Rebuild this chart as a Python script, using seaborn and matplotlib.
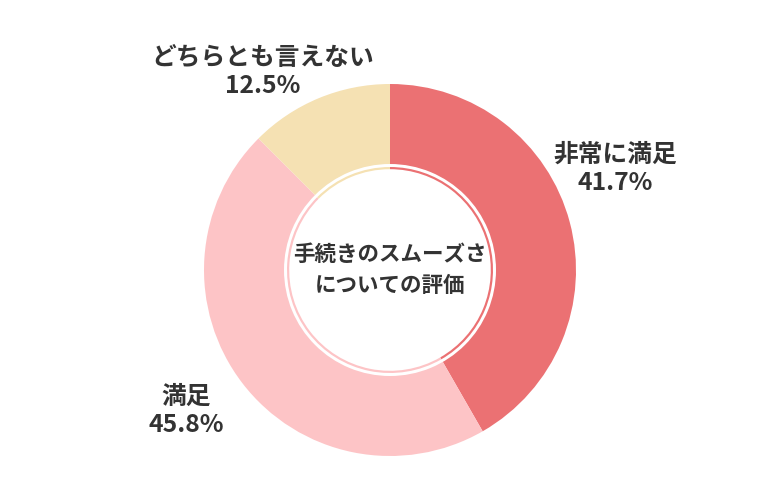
import matplotlib
matplotlib.use("Agg")
import matplotlib.pyplot as plt
import seaborn as sns

categories = ["非常に満足", "満足", "どちらとも言えない"]
values = [41.7, 45.8, 12.5]
colors = ["#EB7173", "#FDC4C6", "#F5E1B3"]
center_title = "手続きのスムーズさ\nについての評価"

sns.set_theme(style="white")
plt.rcParams['font.family'] = ['Noto Sans CJK JP', 'DejaVu Sans']

W, H = 780, 500
fig = plt.figure(figsize=(W / 100, H / 100), dpi=100)
ax = fig.add_axes([0, 0, 1, 1])
ax.set_xlim(0, W)
ax.set_ylim(0, H)
ax.set_aspect('equal')
ax.axis('off')

cx, cy = 390, H - 270
R = 186

# main wedges
ax.pie(values, colors=colors, startangle=90, counterclock=False,
       radius=R, center=(cx, cy), frame=True,
       wedgeprops=dict(linewidth=0))
# white gap ring
ax.pie([1], colors=["white"], radius=106, center=(cx, cy), frame=True,
       wedgeprops=dict(linewidth=0))
# thin coloured ring
ax.pie(values, colors=colors, startangle=90, counterclock=False,
       radius=103, center=(cx, cy), frame=True,
       wedgeprops=dict(linewidth=0, width=2.2))
ax.set_xlim(0, W)
ax.set_ylim(0, H)
ax.axis('off')

txt = dict(fontweight='bold', color='#333333', ha='center', va='center')
label_pos = [(615, 155), (186, 397), (263, 58)]
for (name, v, (x, y)) in zip(categories, values, label_pos):
    ax.text(x, H - y, name, fontsize=17.8, **txt)
    ax.text(x, H - y - 28, f"{v:.1f}%", fontsize=17.8, **txt)

ax.text(cx, H - 270, center_title, fontsize=15.5, linespacing=1.55, **txt)

fig.savefig("out.png", dpi=100, facecolor="white")
